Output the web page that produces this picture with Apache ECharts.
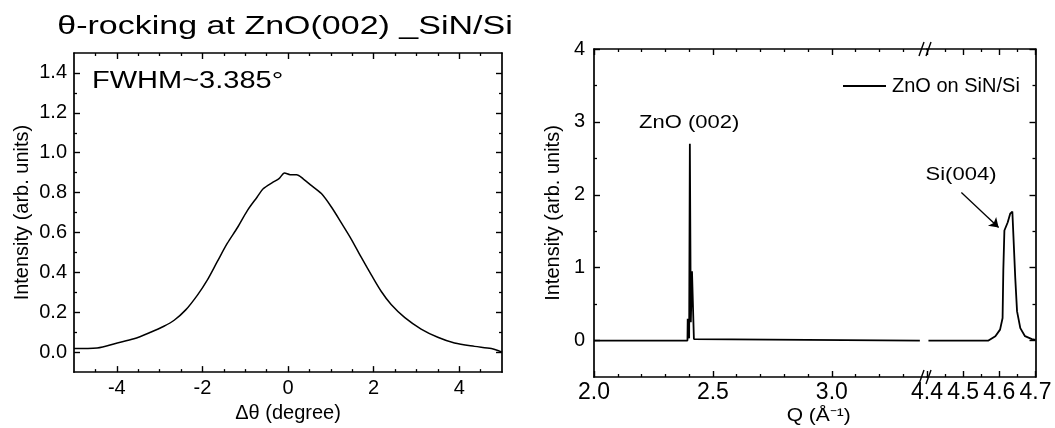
<!DOCTYPE html>
<html>
<head>
<meta charset="utf-8">
<script src="https://cdn.jsdelivr.net/npm/echarts@6/dist/echarts.min.js"></script>
<style>
  html, body { margin: 0; padding: 0; background: #fff; }
  #c { width: 1055px; height: 428px; }
</style>
</head>
<body>
<div id="c"></div>
<script>
// θ-rocking curve around the ZnO(002) reflection
const rockAngle = [-5.0, -4.46, -3.99, -3.60, -3.21, -2.90, -2.66, -2.39, -2.12, -1.89, -1.65, -1.42, -1.18, -0.95, -0.72, -0.58, -0.35, -0.21, -0.08, 0.05, 0.20, 0.36, 0.55, 0.78, 1.01, 1.25, 1.48, 1.71, 1.95, 2.18, 2.41, 2.73, 3.11, 3.50, 3.89, 4.36, 4.75, 5.0];
const rockIntensity = [0.018, 0.021, 0.046, 0.067, 0.100, 0.130, 0.160, 0.212, 0.285, 0.360, 0.455, 0.545, 0.625, 0.710, 0.778, 0.819, 0.852, 0.870, 0.898, 0.890, 0.890, 0.868, 0.835, 0.795, 0.729, 0.647, 0.566, 0.476, 0.386, 0.304, 0.239, 0.173, 0.116, 0.075, 0.046, 0.029, 0.018, 0.0];

// 2θ-ω scan, low-Q segment (ZnO(002))
const qLow = [2.0, 2.393, 2.394, 2.399, 2.400, 2.403, 2.407, 2.412, 2.415, 2.420, 2.421, 3.37];
const iLow = [0, 0, 0.30, 0.30, 0.03, 2.70, 0.25, 0.95, 0.95, 0.02, 0, 0];

// 2θ-ω scan, high-Q segment (Si(004))
const qHigh = [4.404, 4.570, 4.589, 4.602, 4.609, 4.611, 4.614, 4.623, 4.630, 4.636, 4.640, 4.644, 4.649, 4.658, 4.671, 4.690, 4.700];
const iHigh = [0, 0, 0.06, 0.15, 0.31, 0.96, 1.51, 1.62, 1.74, 1.77, 1.76, 0.86, 0.40, 0.17, 0.06, 0.02, 0.01];

// tick positions and labels
const rockXLabels = [-4, -2, 0, 2, 4];
const rockXMinor = [-4.5, -3.5, -3, -2.5, -1.5, -1, -0.5, 0.5, 1, 1.5, 2.5, 3, 3.5, 4.5];
const rockYLabels = [0, 0.2, 0.4, 0.6, 0.8, 1.0, 1.2, 1.4];
const rockYMinor = [0.1, 0.3, 0.5, 0.7, 0.9, 1.1, 1.3];
const qLowLabels = [2.0, 2.5, 3.0];
const qLowMinor = [2.1, 2.2, 2.3, 2.4, 2.6, 2.7, 2.8, 2.9, 3.1, 3.2, 3.3];
const qHighLabels = [4.4, 4.5, 4.6, 4.7];
const qHighMinor = [4.45, 4.55, 4.65];
const intLabels = [0, 1, 2, 3, 4];
const intMinor = [0.5, 1.5, 2.5, 3.5];

const seriesName = 'ZnO on SiN/Si';
const FONT = '"Liberation Sans", Arial, sans-serif';
const INK = '#000';

// plot rectangles
const L = { left: 74, top: 53, width: 428, height: 326 };
const RA = { left: 594, top: 49, width: 333, height: 328 };
const RB = { left: 927, top: 49, width: 108.5, height: 328 };

function mainAxis(gridIndex, position, min, max, ticks, labels, fmt, margin, size, extra) {
  return Object.assign({
    type: 'value', gridIndex, position, min, max,
    splitLine: { show: false },
    axisLine: { show: true, onZero: false, lineStyle: { color: INK, width: 1.7 } },
    axisTick: { show: true, inside: true, length: 6, customValues: ticks, lineStyle: { color: INK, width: 1.4 } },
    axisLabel: labels ? {
      show: true, customValues: labels, formatter: fmt, margin,
      color: INK, fontSize: size, fontFamily: FONT
    } : { show: false }
  }, extra || {});
}
function minorAxis(gridIndex, position, min, max, ticks) {
  return {
    type: 'value', gridIndex, position, min, max,
    splitLine: { show: false },
    axisLine: { show: false, onZero: false },
    axisTick: { show: true, inside: true, length: 3, customValues: ticks, lineStyle: { color: INK, width: 1.3 } },
    axisLabel: { show: false }
  };
}
const nameStyle = { color: INK, fontSize: 20, fontFamily: FONT };
const f1 = v => Number(v).toFixed(1);
const f0 = v => String(Math.round(v));

const xAxis = [
  mainAxis(0, 'bottom', -5, 5, rockXLabels, rockXLabels, f0, 6, 20,
    { name: 'Δθ (degree)', nameLocation: 'middle', nameGap: 25, nameTextStyle: nameStyle }),
  minorAxis(0, 'bottom', -5, 5, rockXMinor),
  mainAxis(0, 'top', -5, 5, rockXLabels, null),
  minorAxis(0, 'top', -5, 5, rockXMinor),
  mainAxis(1, 'bottom', 2.0, 3.4, qLowLabels, qLowLabels, f1, 4, 23),
  minorAxis(1, 'bottom', 2.0, 3.4, qLowMinor),
  mainAxis(1, 'top', 2.0, 3.4, qLowLabels, null),
  minorAxis(1, 'top', 2.0, 3.4, qLowMinor),
  mainAxis(2, 'bottom', 4.4, 4.7, qHighLabels, qHighLabels, f1, 4, 23),
  minorAxis(2, 'bottom', 4.4, 4.7, qHighMinor),
  mainAxis(2, 'top', 4.4, 4.7, qHighLabels, null),
  minorAxis(2, 'top', 4.4, 4.7, qHighMinor)
];
const yAxis = [
  mainAxis(0, 'left', -0.1, 1.5, rockYLabels, rockYLabels, f1, 7, 20,
    { name: 'Intensity (arb. units)', nameLocation: 'middle', nameGap: 42, nameTextStyle: nameStyle }),
  minorAxis(0, 'left', -0.1, 1.5, rockYMinor),
  mainAxis(0, 'right', -0.1, 1.5, rockYLabels, null),
  minorAxis(0, 'right', -0.1, 1.5, rockYMinor),
  mainAxis(1, 'left', -0.5, 4, intLabels, intLabels, f0, 9, 20,
    { name: 'Intensity (arb. units)', nameLocation: 'middle', nameGap: 31, nameTextStyle: nameStyle }),
  minorAxis(1, 'left', -0.5, 4, intMinor),
  mainAxis(2, 'right', -0.5, 4, intLabels, null),
  minorAxis(2, 'right', -0.5, 4, intMinor)
];

const rockLine = { color: INK, width: 1.5 };
const scanLine = { color: INK, width: 1.8 };
const pairs = (xs, ys) => xs.map((x, i) => [x, ys[i]]);

const chart = echarts.init(document.getElementById('c'), null, { renderer: 'canvas' });
chart.setOption({
  animation: false,
  backgroundColor: '#fff',
  grid: [
    Object.assign({ containLabel: false }, L),
    Object.assign({ containLabel: false }, RA),
    Object.assign({ containLabel: false }, RB)
  ],
  xAxis, yAxis,
  legend: {
    show: true, left: 838, top: 71, itemWidth: 43, itemHeight: 1.8,
    icon: 'rect',
    data: [seriesName],
    itemStyle: { color: INK },
    textStyle: { color: INK, fontSize: 20, fontFamily: FONT, padding: [0, 0, 0, 1] }
  },
  series: [
    {
      type: 'line', name: 'θ-rocking', xAxisIndex: 0, yAxisIndex: 0,
      data: pairs(rockAngle, rockIntensity),
      symbol: 'none', showSymbol: false, smooth: 0.3, lineStyle: rockLine, silent: true
    },
    {
      type: 'line', name: seriesName, xAxisIndex: 4, yAxisIndex: 4,
      data: pairs(qLow, iLow),
      symbol: 'none', showSymbol: false, lineStyle: scanLine, itemStyle: { color: INK }, silent: true
    },
    {
      type: 'line', name: seriesName, xAxisIndex: 8, yAxisIndex: 6,
      data: pairs(qHigh, iHigh),
      symbol: 'none', showSymbol: false, lineStyle: scanLine, itemStyle: { color: INK }, silent: true,
      markLine: {
        silent: true, symbol: ['none', 'arrow'], symbolSize: 9,
        label: { show: false },
        lineStyle: { color: INK, width: 1.3, type: 'solid' },
        data: [[{ coord: [4.495, 2.03] }, { coord: [4.598, 1.55] }]]
      }
    }
  ]
});

// free text and axis-break marks
const px = (xi, yi, v) => chart.convertToPixel({ xAxisIndex: xi, yAxisIndex: yi }, v);
function label(pos, text, size, align, sy) {
  return {
    type: 'text', x: pos[0], y: pos[1], scaleY: sy || 0.83, silent: true,
    style: { text, font: size + 'px ' + FONT, fill: INK, align: align || 'center', verticalAlign: 'middle' }
  };
}
const zno = px(4, 4, [2.40, 2.98]);
const si = px(8, 6, [4.494, 2.27]);
const fw = px(0, 0, [-4.58, 1.36]);
const bx = RB.left;
const yTop = RA.top, yBot = RA.top + RA.height;
function breakMark(y) {
  return [
    { type: 'rect', shape: { x: bx - 7, y: y - 3, width: 13, height: 6 }, style: { fill: '#fff' }, silent: true },
    { type: 'line', shape: { x1: bx - 8, y1: y + 7, x2: bx - 3, y2: y - 7 }, style: { stroke: INK, lineWidth: 1.4 }, silent: true },
    { type: 'line', shape: { x1: bx - 1, y1: y + 7, x2: bx + 4, y2: y - 7 }, style: { stroke: INK, lineWidth: 1.4 }, silent: true }
  ];
}
chart.setOption({
  graphic: [
    label([285, 27], 'θ-rocking at ZnO(002) _SiN/Si', 34, 'center', 0.78),
    label(fw, 'FWHM~3.385°', 29, 'left'),
    label(zno, 'ZnO (002)', 22),
    label(si, 'Si(004)', 22),
    label([(RA.left + RB.left + RB.width) / 2 + 4, 416], 'Q (Å⁻¹)', 21),
    ...breakMark(yTop),
    ...breakMark(yBot)
  ]
});
</script>
</body>
</html>
